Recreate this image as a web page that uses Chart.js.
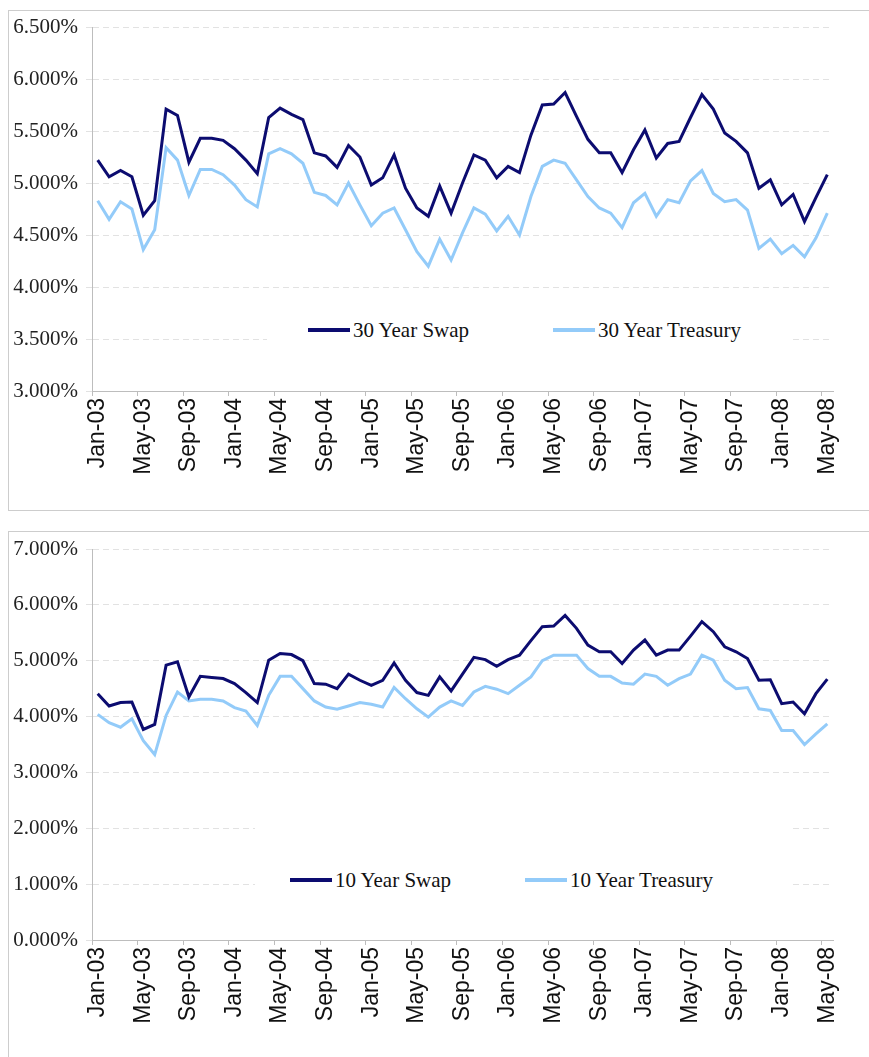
<!DOCTYPE html>
<html>
<head>
<meta charset="utf-8">
<script src="https://cdn.jsdelivr.net/npm/chart.js@4.4.1/dist/chart.umd.min.js"></script>
<style>
    html, body { margin: 0; padding: 0; background: #fff; width: 869px; height: 1057px; overflow: hidden; }
    .panel { position: absolute; left: 8px; width: 900px; border: 1.5px solid #cdcdcd; box-sizing: border-box; }
    .wrap { position: absolute; left: 0; width: 869px; }
    .legend { position: absolute; background: #fff; }
    .legend-item { position: absolute; white-space: nowrap; font-family: "Liberation Serif", "Times New Roman", serif; font-size: 21px; color: #111; line-height: 26px; }
    .swatch { display: inline-block; width: 42px; height: 4px; margin-right: 3px; vertical-align: middle; }
</style>
</head>
<body>
<div class="panel" style="top:10px;height:501px;"></div>
<div class="panel" style="top:531px;height:600px;"></div>

<div class="wrap" style="top:0;height:510px;"><canvas id="chart-30" width="869" height="510"></canvas></div>
<div class="wrap" style="top:521px;height:536px;"><canvas id="chart-10" width="869" height="536"></canvas></div>

<div class="legend" id="legend-30" style="left:267px;top:303px;width:522px;height:50px;"></div>
<div class="legend" id="legend-10" style="left:255px;top:815px;width:535px;height:90px;"></div>

<script>
// Month-end observations, Jan-03 .. May-08
const months = [
    'Jan-03', 'Feb-03', 'Mar-03', 'Apr-03', 'May-03', 'Jun-03', 'Jul-03', 'Aug-03', 'Sep-03', 'Oct-03', 'Nov-03', 'Dec-03',
    'Jan-04', 'Feb-04', 'Mar-04', 'Apr-04', 'May-04', 'Jun-04', 'Jul-04', 'Aug-04', 'Sep-04', 'Oct-04', 'Nov-04', 'Dec-04',
    'Jan-05', 'Feb-05', 'Mar-05', 'Apr-05', 'May-05', 'Jun-05', 'Jul-05', 'Aug-05', 'Sep-05', 'Oct-05', 'Nov-05', 'Dec-05',
    'Jan-06', 'Feb-06', 'Mar-06', 'Apr-06', 'May-06', 'Jun-06', 'Jul-06', 'Aug-06', 'Sep-06', 'Oct-06', 'Nov-06', 'Dec-06',
    'Jan-07', 'Feb-07', 'Mar-07', 'Apr-07', 'May-07', 'Jun-07', 'Jul-07', 'Aug-07', 'Sep-07', 'Oct-07', 'Nov-07', 'Dec-07',
    'Jan-08', 'Feb-08', 'Mar-08', 'Apr-08', 'May-08'
];

const swap30 = [
    5.22, 5.06, 5.12, 5.06, 4.69, 4.83, 5.71, 5.65, 5.20, 5.43, 5.43, 5.41,
    5.33, 5.22, 5.09, 5.63, 5.72, 5.66, 5.61, 5.29, 5.26, 5.15, 5.36, 5.25,
    4.98, 5.05, 5.27, 4.95, 4.76, 4.68, 4.97, 4.71, 5.00, 5.27, 5.22, 5.05,
    5.16, 5.10, 5.46, 5.75, 5.76, 5.87, 5.64, 5.42, 5.29, 5.29, 5.10, 5.32,
    5.51, 5.24, 5.38, 5.40, 5.63, 5.85, 5.71, 5.48, 5.40, 5.29, 4.95, 5.03,
    4.79, 4.89, 4.63, 4.86, 5.08
];
const treasury30 = [
    4.83, 4.65, 4.82, 4.75, 4.36, 4.55, 5.34, 5.22, 4.88, 5.13, 5.13, 5.08,
    4.98, 4.84, 4.77, 5.28, 5.33, 5.28, 5.19, 4.91, 4.88, 4.79, 5.00, 4.79,
    4.59, 4.71, 4.76, 4.55, 4.34, 4.20, 4.46, 4.26, 4.52, 4.76, 4.70, 4.54,
    4.68, 4.50, 4.87, 5.16, 5.22, 5.19, 5.03, 4.87, 4.76, 4.71, 4.57, 4.81,
    4.90, 4.68, 4.84, 4.81, 5.02, 5.12, 4.90, 4.82, 4.84, 4.74, 4.37, 4.46,
    4.32, 4.40, 4.29, 4.47, 4.71
];
const swap10 = [
    4.41, 4.19, 4.25, 4.26, 3.77, 3.86, 4.92, 4.98, 4.35, 4.72, 4.70, 4.68,
    4.59, 4.43, 4.25, 5.01, 5.13, 5.11, 5.00, 4.59, 4.58, 4.50, 4.76, 4.65,
    4.56, 4.65, 4.96, 4.65, 4.43, 4.38, 4.71, 4.46, 4.76, 5.06, 5.02, 4.90,
    5.02, 5.10, 5.36, 5.61, 5.62, 5.81, 5.58, 5.28, 5.16, 5.16, 4.95, 5.19,
    5.37, 5.10, 5.19, 5.19, 5.44, 5.70, 5.52, 5.25, 5.16, 5.04, 4.65, 4.66,
    4.23, 4.26, 4.05, 4.41, 4.67
];
const treasury10 = [
    4.04, 3.89, 3.81, 3.96, 3.57, 3.32, 4.02, 4.44, 4.28, 4.31, 4.31, 4.28,
    4.16, 4.10, 3.84, 4.38, 4.72, 4.72, 4.50, 4.28, 4.17, 4.13, 4.19, 4.25,
    4.22, 4.17, 4.52, 4.32, 4.14, 3.99, 4.17, 4.28, 4.20, 4.44, 4.54, 4.49,
    4.41, 4.56, 4.71, 5.00, 5.10, 5.10, 5.10, 4.86, 4.72, 4.72, 4.60, 4.58,
    4.76, 4.72, 4.56, 4.68, 4.76, 5.10, 5.01, 4.65, 4.50, 4.52, 4.14, 4.11,
    3.75, 3.75, 3.50, 3.69, 3.87
];

const swapColor = '#0c0c70';
const treasuryColor = '#93cbf9';
const axisColor = '#bdbdbd';
const serif = '"Liberation Serif", "Times New Roman", serif';
const sans = '"Liberation Sans", Arial, sans-serif';

function makeChart(canvasId, series, yMin, yMax, yStep, padTop, xAxisHeight) {
    return new Chart(document.getElementById(canvasId), {
        type: 'line',
        data: {
            labels: months,
            datasets: series.map(s => ({
                label: s.label,
                data: s.data,
                borderColor: s.color,
                backgroundColor: s.color,
                borderWidth: 3,
                pointRadius: 0,
                tension: 0,
                fill: false
            }))
        },
        options: {
            responsive: false,
            animation: false,
            layout: { padding: { top: padTop, right: 36, bottom: 0, left: 0 } },
            plugins: { legend: { display: false }, tooltip: { enabled: false } },
            scales: {
                x: {
                    offset: true,
                    grid: {
                        offset: true,
                        drawOnChartArea: false,
                        tickLength: 5,
                        // tick marks only under the labelled months
                        color: ctx => (ctx.index !== undefined && ctx.index % 4 === 0) ? axisColor : 'rgba(0,0,0,0)'
                    },
                    border: { color: axisColor, width: 1 },
                    ticks: {
                        autoSkip: false,
                        maxRotation: 90,
                        minRotation: 90,
                        padding: 2,
                        color: '#111',
                        font: { family: sans, size: 23 },
                        callback: (v, i) => i % 4 === 0 ? months[i] : ''
                    },
                    afterFit: scale => { scale.height = xAxisHeight; }
                },
                y: {
                    min: yMin,
                    max: yMax,
                    ticks: {
                        stepSize: yStep,
                        padding: 8,
                        color: '#222',
                        font: { family: serif, size: 21 },
                        callback: v => Number(v).toFixed(3) + '%'
                    },
                    grid: { color: '#e2e2e2', tickLength: 6 },
                    border: { color: axisColor, width: 1, dash: [6, 4] },
                    afterFit: scale => { scale.width = 92; }
                }
            }
        }
    });
}

// Legend html, built from the series definitions
function renderLegend(divId, series, positions, top) {
    const div = document.getElementById(divId);
    div.innerHTML = series.map((s, i) => `
        <div class="legend-item" style="left:${positions[i]}px;top:${top}px;">
            <span class="swatch" style="background:${s.color};"></span><span style="vertical-align:middle;">${s.label}</span>
        </div>`).join('');
}

const series30 = [
    { label: '30 Year Swap', data: swap30, color: swapColor },
    { label: '30 Year Treasury', data: treasury30, color: treasuryColor }
];
const series10 = [
    { label: '10 Year Swap', data: swap10, color: swapColor },
    { label: '10 Year Treasury', data: treasury10, color: treasuryColor }
];

makeChart('chart-30', series30, 3, 6.5, 0.5, 27, 119);
makeChart('chart-10', series10, 0, 7, 1, 28, 117);

renderLegend('legend-30', series30, [41, 286], 12);
renderLegend('legend-10', series10, [35, 270], 50);
</script>
</body>
</html>
